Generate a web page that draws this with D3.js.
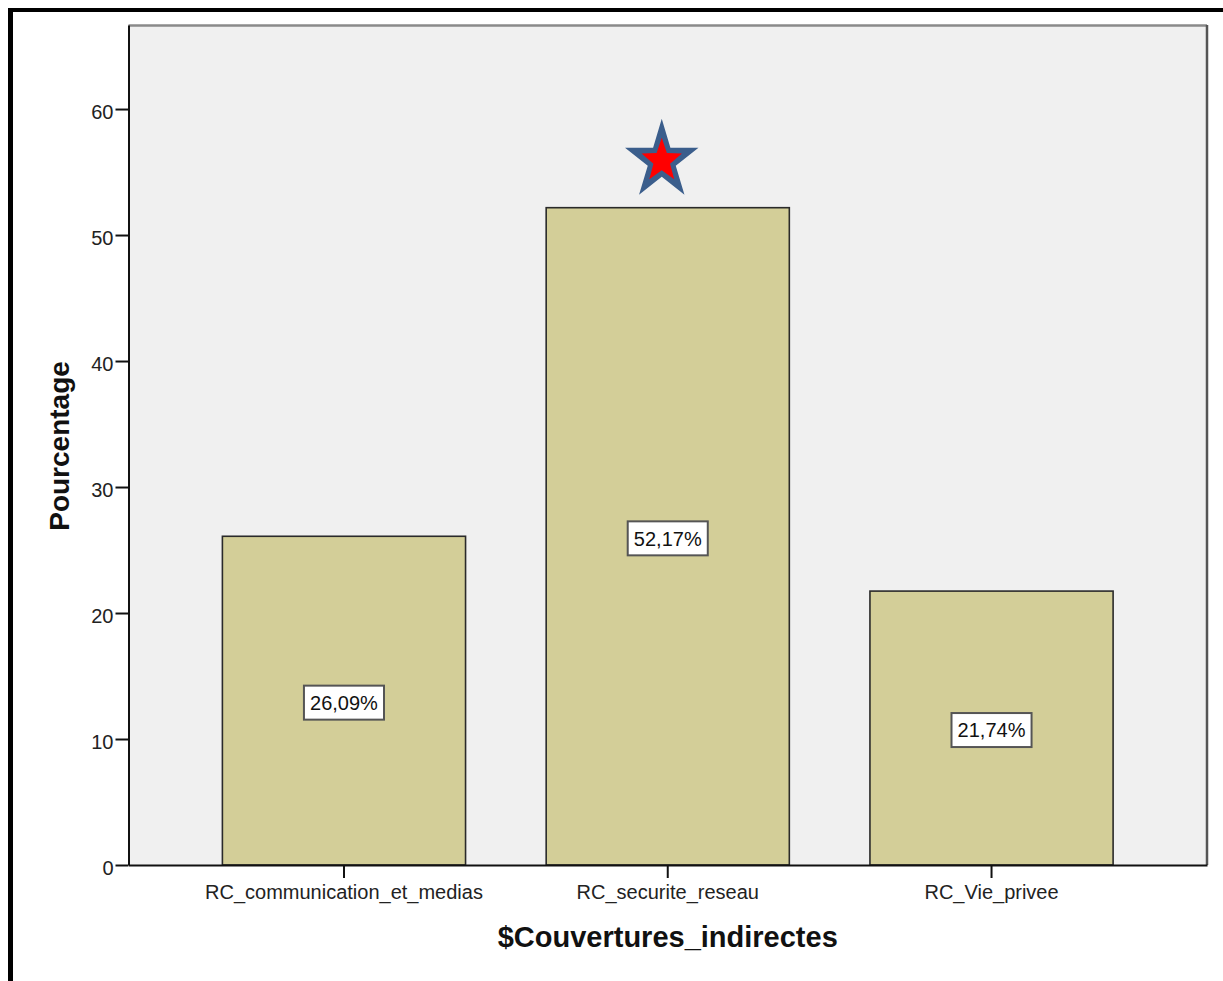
<!DOCTYPE html>
<html><head><meta charset="utf-8">
<script src="https://cdn.jsdelivr.net/npm/d3@7"></script>
<style>
html,body{margin:0;padding:0;background:#fff;}
svg{display:block;font-family:"Liberation Sans",Arial,sans-serif;}
</style>
</head><body>
<svg id="chart" width="1223" height="981"></svg>
<script>
// Data
const categories = ["RC_communication_et_medias", "RC_securite_reseau", "RC_Vie_privee"];
const percentages = [26.09, 52.17, 21.74];
const yTicks = [0, 10, 20, 30, 40, 50, 60];
const xTitle = "$Couvertures_indirectes";
const yTitle = "Pourcentage";

(function () {
const svg = d3.select("#chart");
const W = 1223, H = 981;
const plot = {left: 128.5, top: 25, right: 1207, bottom: 865};

const y = d3.scaleLinear().domain([0, 66.67]).range([plot.bottom, plot.top]);
const x = d3.scaleBand().domain(categories)
  .range([plot.left, plot.right]).paddingInner(0.249).paddingOuter(0.29);

// outer frame (left and top edges)
svg.append("rect").attr("x", 8).attr("y", 8).attr("width", 5).attr("height", H).attr("fill", "#000");
svg.append("rect").attr("x", 8).attr("y", 8).attr("width", W).attr("height", 4).attr("fill", "#000");

// plot background
svg.append("rect")
  .attr("x", plot.left).attr("y", plot.top)
  .attr("width", plot.right - plot.left).attr("height", plot.bottom - plot.top)
  .attr("fill", "#f0f0f0");

// bars
const data = categories.map((c, i) => ({cat: c, v: percentages[i]}));
svg.append("g").selectAll("rect").data(data).join("rect")
  .attr("x", d => x(d.cat)).attr("y", d => y(d.v))
  .attr("width", x.bandwidth()).attr("height", d => y(0) - y(d.v))
  .attr("fill", "#d3ce98").attr("stroke", "#2a2a2a").attr("stroke-width", 1.6);

// plot frame: top and right edges
svg.append("line").attr("x1", plot.left).attr("x2", plot.right).attr("y1", plot.top + 0.5).attr("y2", plot.top + 0.5)
  .attr("stroke", "#8a8a8a").attr("stroke-width", 2.5);
svg.append("line").attr("x1", plot.right).attr("x2", plot.right).attr("y1", plot.top).attr("y2", plot.bottom)
  .attr("stroke", "#555").attr("stroke-width", 2.5);

// y axis
const yAxis = svg.append("g").attr("transform", `translate(${plot.left},0)`)
  .call(d3.axisLeft(y).tickValues(yTicks).tickSize(13).tickPadding(2).tickSizeOuter(0));
yAxis.select(".domain").attr("stroke", "#111").attr("stroke-width", 2);
yAxis.selectAll(".tick line").attr("stroke", "#111").attr("stroke-width", 2);
yAxis.selectAll(".tick text").attr("font-size", 20).attr("fill", "#222")
  .attr("font-family", "Liberation Sans, Arial, sans-serif").attr("dy", "0.45em");

// x axis
const xAxis = svg.append("g").attr("transform", `translate(0,${plot.bottom})`)
  .call(d3.axisBottom(x).tickSize(13).tickSizeOuter(0));
xAxis.select(".domain").attr("stroke", "#111").attr("stroke-width", 2.2);
xAxis.selectAll(".tick line").attr("stroke", "#111").attr("stroke-width", 2);
xAxis.selectAll(".tick text").attr("font-size", 20).attr("fill", "#222")
  .attr("font-family", "Liberation Sans, Arial, sans-serif")
  .attr("y", 34).attr("dy", 0);

// axis titles
svg.append("text").attr("x", (plot.left + plot.right) / 2).attr("y", 947)
  .attr("text-anchor", "middle").attr("font-size", 29).attr("font-weight", "bold")
  .attr("fill", "#111").text(xTitle);
svg.append("text").attr("transform", "translate(69,446) rotate(-90)")
  .attr("text-anchor", "middle").attr("font-size", 28).attr("font-weight", "bold")
  .attr("fill", "#111").text(yTitle);

// value labels in boxes at mid-bar
const fmt = v => v.toFixed(2).replace(".", ",") + "%";
const lab = svg.append("g").selectAll("g").data(data).join("g")
  .attr("transform", d => `translate(${x(d.cat) + x.bandwidth() / 2},${y(d.v / 2) + 2})`);
lab.append("rect").attr("class", "box");
lab.append("text").attr("text-anchor", "middle").attr("dy", "0.36em")
  .attr("font-size", 20).attr("fill", "#111").text(d => fmt(d.v));
lab.each(function () {
  const g = d3.select(this);
  const bb = g.select("text").node().getBBox();
  g.select("rect.box")
    .attr("x", -bb.width / 2 - 6).attr("y", -17)
    .attr("width", bb.width + 12).attr("height", 34)
    .attr("fill", "#fff").attr("stroke", "#555").attr("stroke-width", 2);
});

// star marking the highest bar
function starPath(R, r) {
  const pts = [];
  for (let k = 0; k < 10; k++) {
    const a = -Math.PI / 2 + k * Math.PI / 5;
    const rad = k % 2 === 0 ? R : r;
    pts.push([rad * Math.cos(a), rad * Math.sin(a)]);
  }
  return "M" + pts.map(p => p.join(",")).join("L") + "Z";
}
const best = data.reduce((a, b) => (b.v > a.v ? b : a));
const star = svg.append("g")
  .attr("transform", `translate(${x(best.cat) + x.bandwidth() / 2 - 6},${y(best.v) - 47}) scale(0.92,1)`);
star.append("path").attr("d", starPath(42, 16)).attr("fill", "#3b5e8c");
star.append("path").attr("d", starPath(23, 9.5)).attr("fill", "#ff0000");
})();
</script>
</body></html>
